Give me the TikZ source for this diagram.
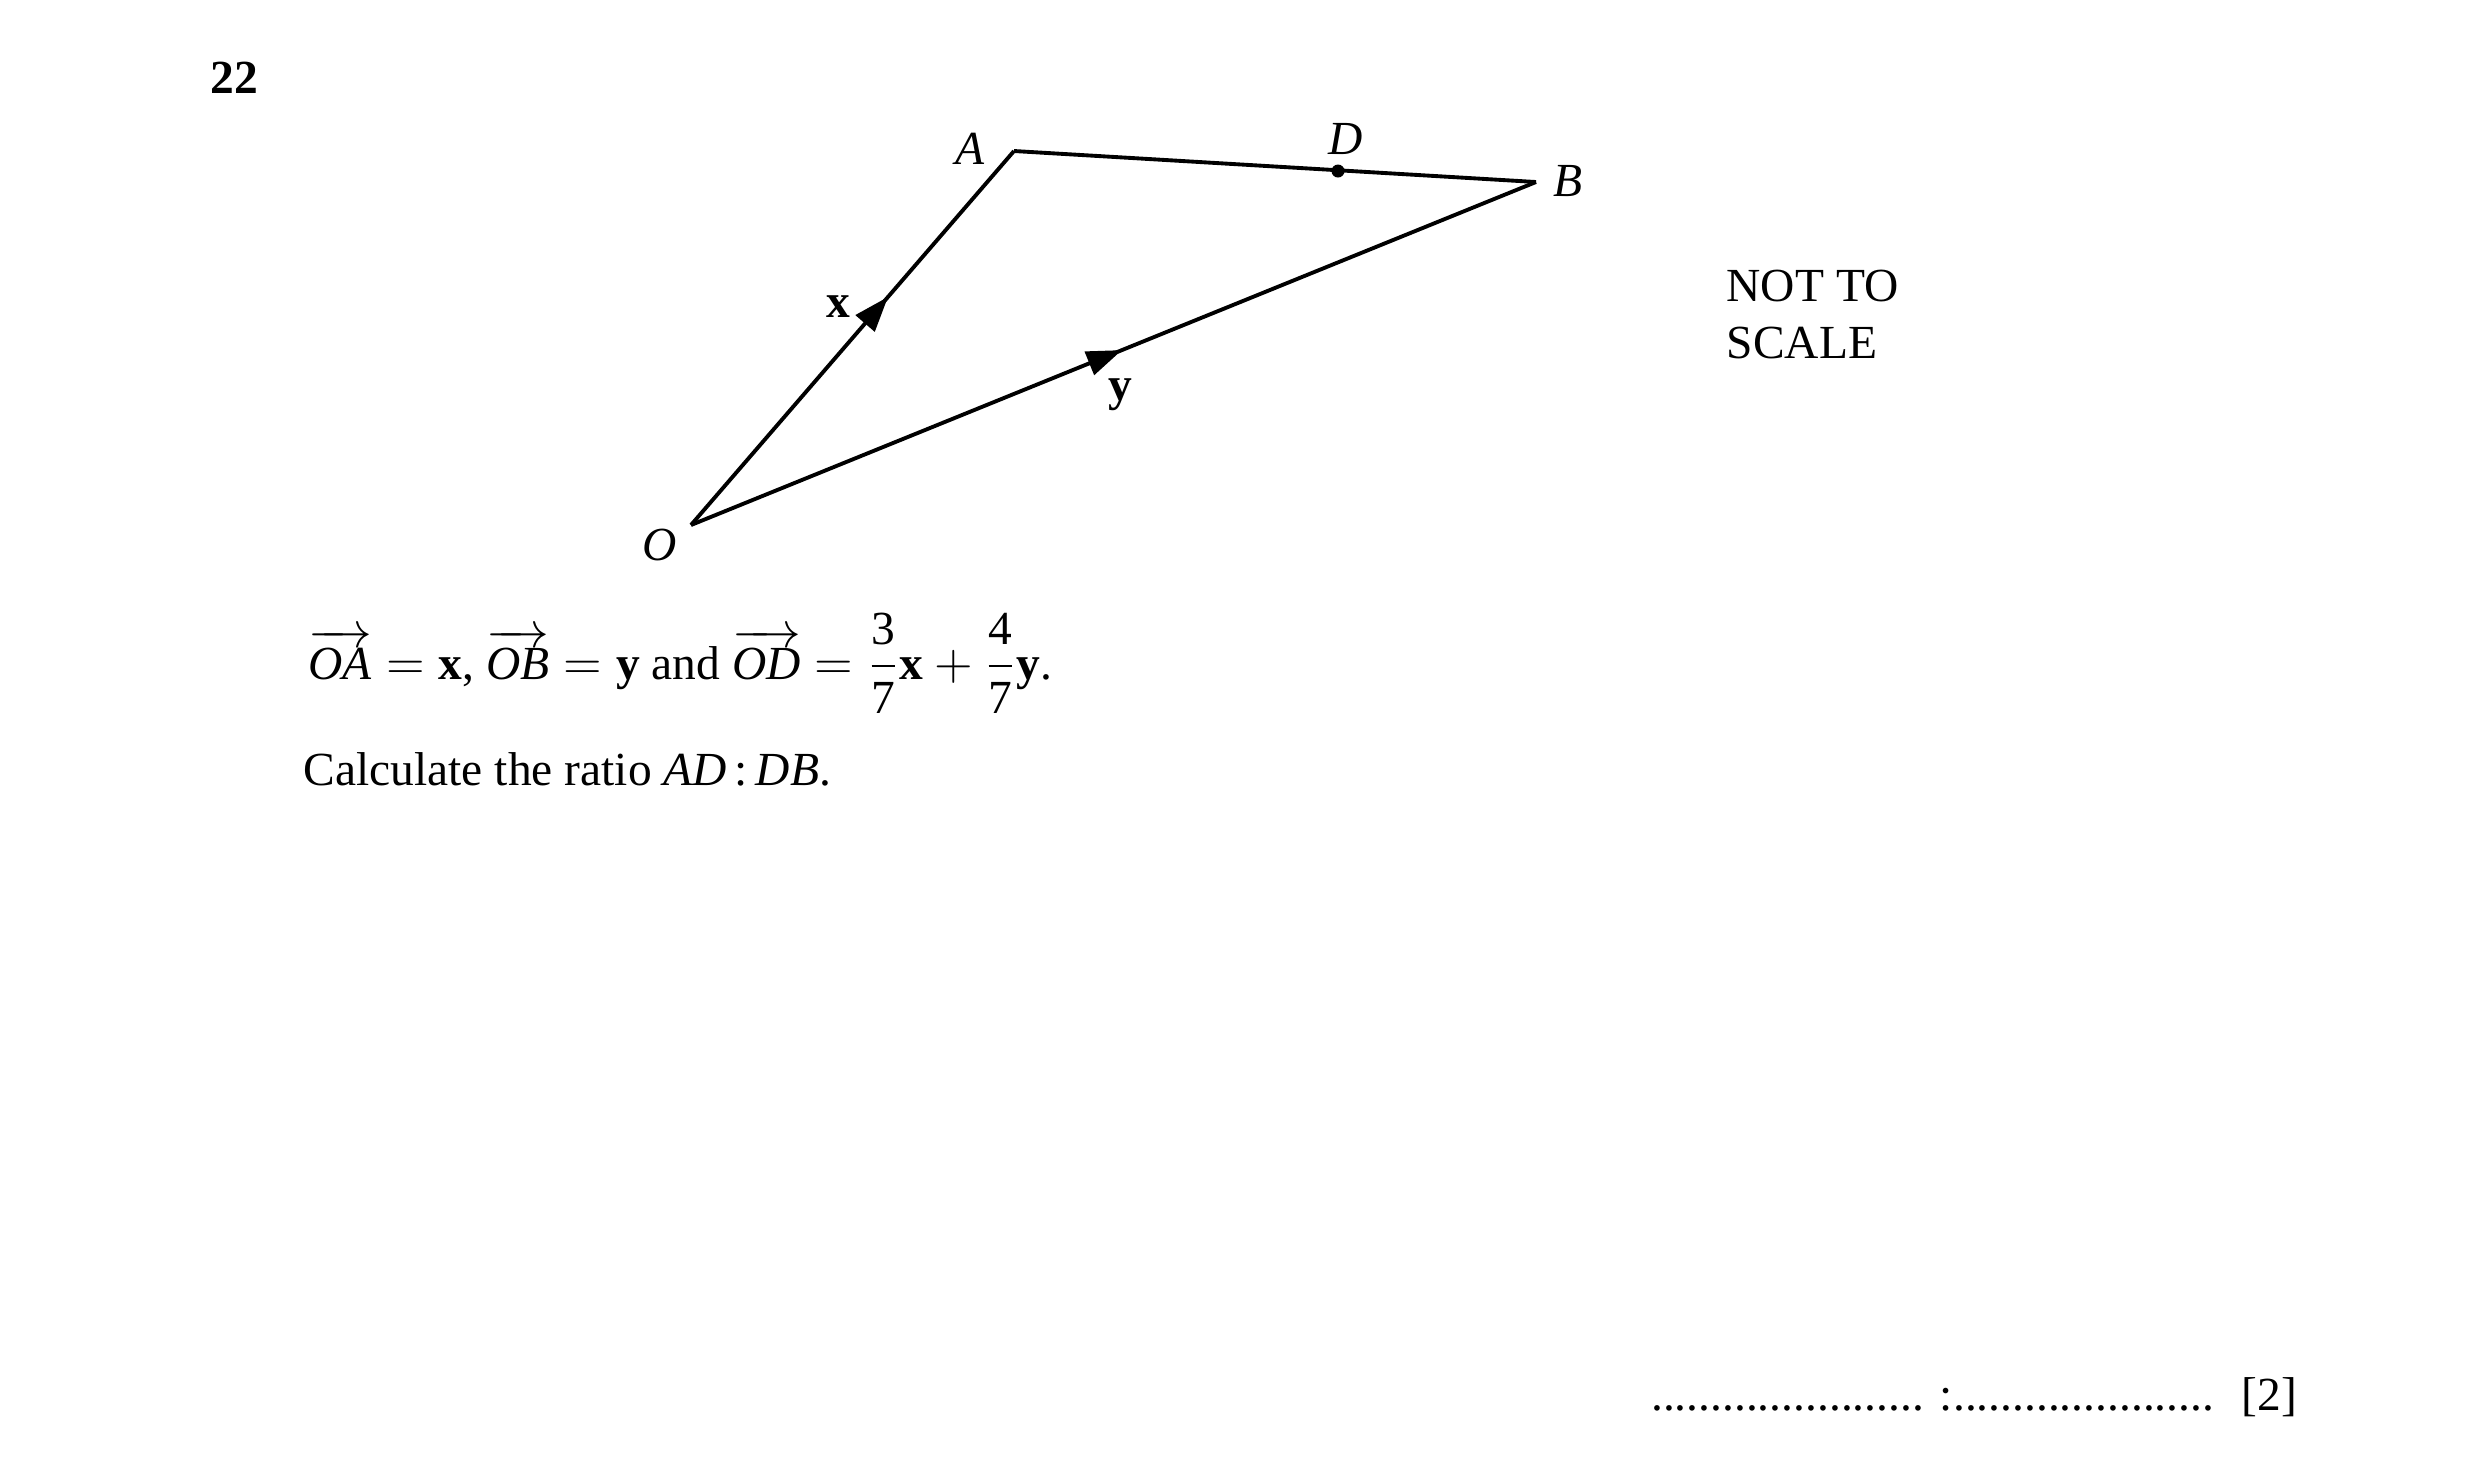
\documentclass[tikz,border=0pt]{standalone}
\usepackage{fontspec}
\usepackage{amsmath}
\setmainfont{Liberation Serif}
\usetikzlibrary{arrows.meta,decorations.markings}

\tikzset{
  side/.style={line width=1.1pt, line join=miter},
  midarrow/.style={postaction={decorate,decoration={markings,
      mark=at position #1 with {\arrow{Triangle[length=10pt,width=7pt]}}}}},
  txt/.style={inner sep=0pt, font=\fontsize{13.5}{16}\selectfont},
}

\begin{document}
\begin{tikzpicture}[x=0.01cm, y=-0.01cm]
      \useasboundingbox (0,0) rectangle (2481,1468);

      \coordinate (O) at (691,525);
      \coordinate (A) at (1014,151);
      \coordinate (B) at (1536,182);
      \coordinate (D) at (1338,171);

      \draw[side, midarrow=0.61] (O) -- (A);
      \draw[side] (A) -- (B);
      \draw[side, midarrow=0.51] (O) -- (B);
      \fill (D) circle [radius=6.5];

	\node[txt, anchor=base] (labO) at (660,560) {\textit{O}};
	\node[txt, anchor=base] (labA) at (970,164) {\textit{A}};
	\node[txt, anchor=base] (labD) at (1346,154) {\textit{D}};
	\node[txt, anchor=base] (labB) at (1568,196) {\textit{B}};
	\node[txt, anchor=base] (labx) at (838,317) {\textbf{x}};
	\node[txt, anchor=base] (laby) at (1120,400) {\textbf{y}};

	\node[txt, anchor=base west] (qnum) at (210,93) {\textbf{22}};
	\node[txt, anchor=base west] (nts1) at (1726,301) {NOT TO};
	\node[txt, anchor=base west] (nts2) at (1726,358) {SCALE};

	\node[txt, anchor=base west] (given) at (308,679)
	  {$\overrightarrow{\textit{OA}}=\textbf{x}$, $\overrightarrow{\textit{OB}}=\textbf{y}$ and
	   $\overrightarrow{\textit{OD}}=\dfrac{\text{3}}{\text{7}}\textbf{x}+\dfrac{\text{4}}{\text{7}}\textbf{y}$.};
	\node[txt, anchor=base west] (task) at (303,785)
	  {Calculate the ratio \textit{AD}\,:\,\textit{DB}.};

	\node[txt, anchor=base east] (answer) at (2298,1410)
	  {....................... :...................... \ [2]};
    \end{tikzpicture}
\end{document}
